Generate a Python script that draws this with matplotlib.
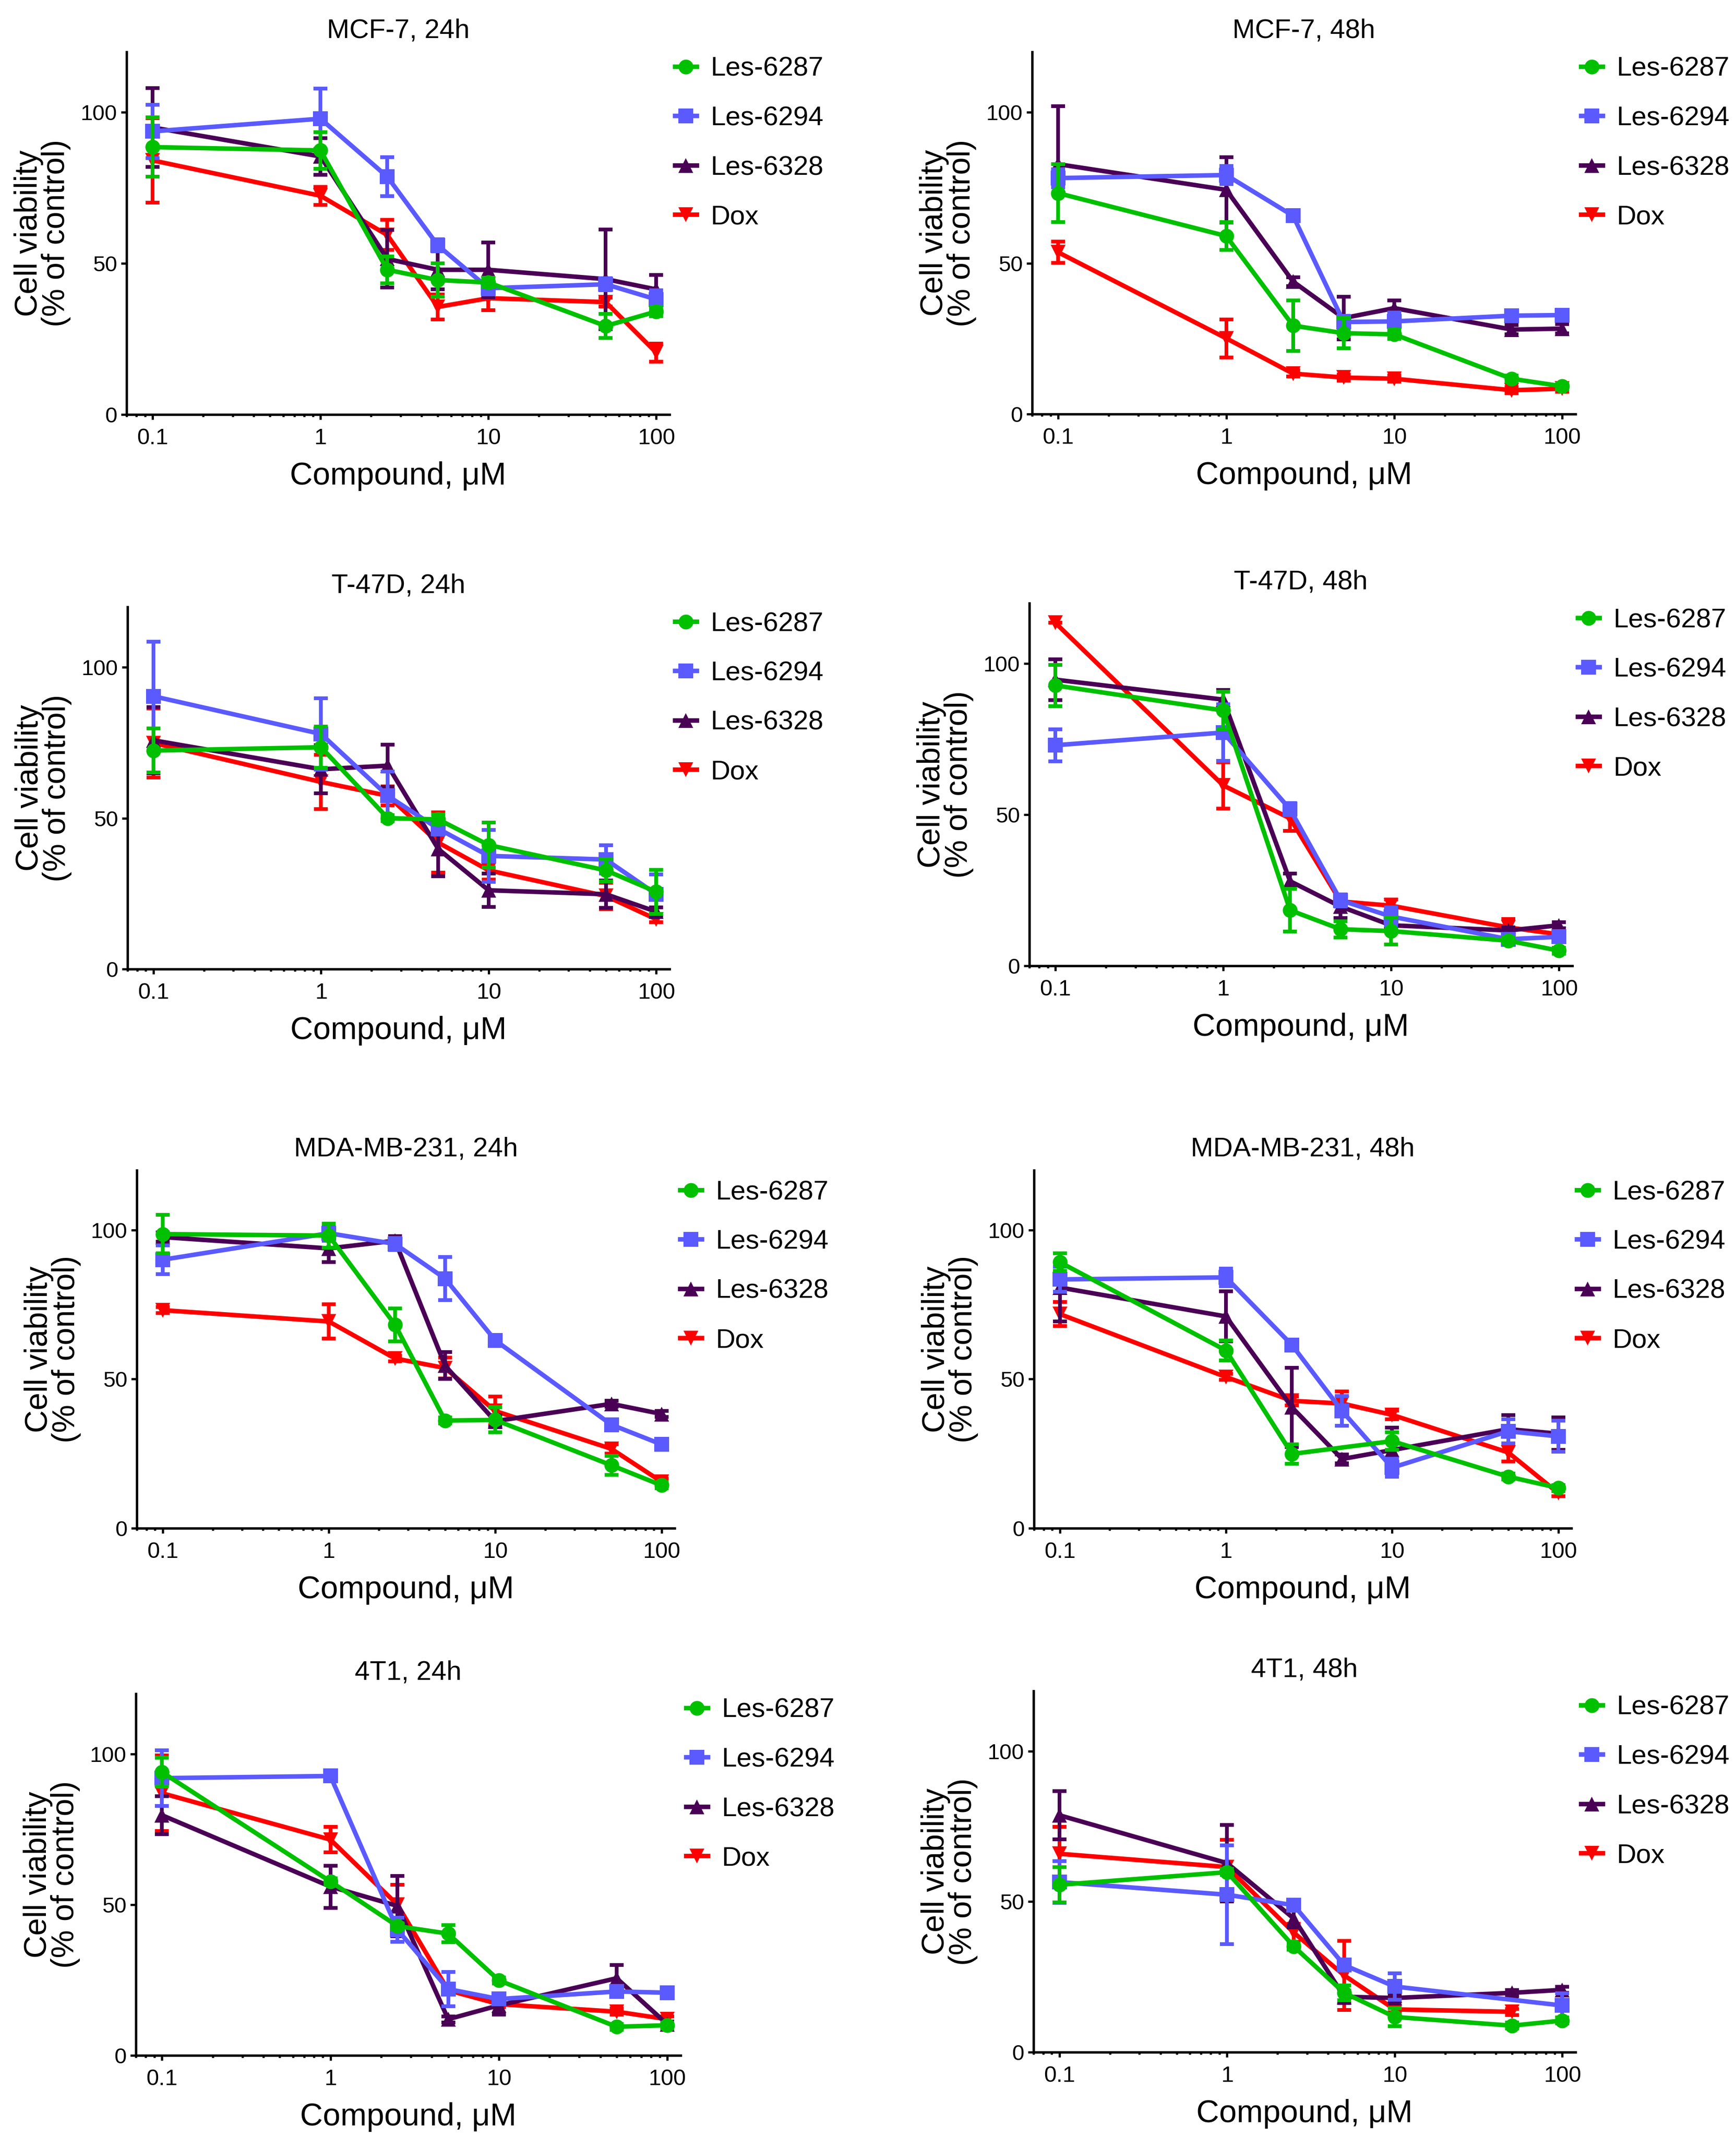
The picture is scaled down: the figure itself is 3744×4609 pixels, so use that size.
import numpy as np
import matplotlib
matplotlib.use("Agg")
import matplotlib.pyplot as plt
from matplotlib.lines import Line2D
from matplotlib.ticker import FixedLocator, LogLocator, NullFormatter, FixedFormatter

plt.rcParams['font.family'] = ['Liberation Sans', 'DejaVu Sans']

conc = [0.1, 1, 2.5, 5, 10, 50, 100]
compounds = ["Les-6287", "Les-6294", "Les-6328", "Dox"]
titles = ["MCF-7, 24h", "MCF-7, 48h", "T-47D, 24h", "T-47D, 48h",
          "MDA-MB-231, 24h", "MDA-MB-231, 48h", "4T1, 24h", "4T1, 48h"]
nan = np.nan

# ---- MCF-7 24h ----
mcf7_24_6287 = [88.5, 87.4, 47.9, 44.5, 43.7, 29.3, 34.1]
mcf7_24_6287_sd = [9.8, 6.0, 4.5, 5.5, 1.5, 4.0, 1.5]
mcf7_24_6294 = [93.7, 97.9, 78.7, 56.0, 41.8, 43.1, 38.1]
mcf7_24_6294_sd = [8.8, 10.0, 6.5, 2.0, 2.0, 2.0, 3.0]
mcf7_24_6328 = [95.0, 85.4, 51.5, 47.9, 47.9, 44.8, 41.4]
mcf7_24_6328_sd = [13.0, 6.0, 9.5, 6.5, 9.0, 16.5, 4.8]
mcf7_24_dox = [84.1, 72.4, 59.4, 35.6, 38.5, 37.2, 20.5]
mcf7_24_dox_sd = [14.0, 3.0, 5.0, 4.2, 4.0, 1.5, 3.0]

# ---- MCF-7 48h ----
mcf7_48_6287 = [73.2, 59.0, 29.3, 26.8, 26.4, 11.7, 9.2]
mcf7_48_6287_sd = [9.6, 4.6, 8.4, 5.0, 1.5, 1.0, 1.0]
mcf7_48_6294 = [78.2, 79.2, 65.7, 30.5, 30.7, 32.6, 32.8]
mcf7_48_6294_sd = [3.0, 3.0, 1.5, 2.0, 3.0, 1.5, 1.5]
mcf7_48_6328 = [82.8, 74.3, 43.9, 31.8, 35.1, 28.0, 28.3]
mcf7_48_6328_sd = [19.2, 10.8, 1.5, 7.0, 2.5, 1.5, 1.5]
mcf7_48_dox = [53.6, 25.1, 13.4, 12.1, 11.7, 7.9, 8.4]
mcf7_48_dox_sd = [3.5, 6.3, 1.0, 1.0, 1.0, 1.0, 1.0]

# ---- T-47D 24h ----
t47d_24_6287 = [72.4, 73.5, 50.0, 49.6, 41.1, 32.7, 25.6]
t47d_24_6287_sd = [7.3, 6.8, 1.0, 1.5, 7.4, 3.7, 7.3]
t47d_24_6294 = [90.4, 77.9, 57.4, 46.5, 37.5, 36.3, 24.8]
t47d_24_6294_sd = [18.0, 11.8, 8.1, 2.0, 8.6, 4.7, 6.5]
t47d_24_6328 = [75.8, 66.2, 67.4, 39.8, 26.1, 24.8, 19.0]
t47d_24_6328_sd = [11.0, 8.0, 7.0, 9.0, 5.5, 4.5, 1.5]
t47d_24_dox = [74.9, 62.0, 57.4, 41.9, 32.7, 24.2, 16.5]
t47d_24_dox_sd = [11.5, 9.0, 3.1, 10.0, 3.0, 4.4, 1.0]

# ---- T-47D 48h ----
t47d_48_6287 = [92.8, 84.5, 18.4, 12.1, 11.5, 8.3, 5.0]
t47d_48_6287_sd = [6.8, 6.2, 7.0, 2.7, 4.5, 1.0, 1.0]
t47d_48_6294 = [73.0, 77.2, 51.8, 21.7, 16.3, 8.8, 9.6]
t47d_48_6294_sd = [5.3, 9.4, 2.0, 2.0, 3.0, 1.0, 1.5]
t47d_48_6328 = [94.7, 88.1, 28.0, 19.6, 13.4, 11.7, 13.4]
t47d_48_6328_sd = [6.8, 3.2, 2.5, 3.8, 1.0, 1.0, 1.0]
t47d_48_dox = [113.5, 59.7, 48.8, 21.3, 19.9, 12.7, 10.4]
t47d_48_dox_sd = [0.0, 7.7, 4.2, 1.5, 2.0, 2.8, 1.0]

# ---- MDA-MB-231 24h ----
mda_24_6287 = [98.6, 98.1, 68.2, 36.1, 36.3, 21.1, 14.4]
mda_24_6287_sd = [6.5, 4.0, 5.5, 1.0, 4.2, 3.2, 1.0]
mda_24_6294 = [90.0, 98.9, 95.3, 83.7, 63.0, 34.7, 28.1]
mda_24_6294_sd = [4.8, 2.5, 2.0, 7.3, 1.0, 1.5, 1.0]
mda_24_6328 = [97.6, 93.8, 96.4, 54.5, 35.9, 41.7, 38.3]
mda_24_6328_sd = [1.5, 4.5, 1.5, 4.5, 2.0, 1.0, 1.0]
mda_24_dox = [73.1, 69.3, 56.9, 53.7, 39.3, 26.6, 15.6]
mda_24_dox_sd = [1.0, 5.8, 1.0, 3.5, 4.8, 1.5, 1.0]

# ---- MDA-MB-231 48h ----
mda_48_6287 = [89.2, 59.6, 24.9, nan, 29.2, 17.3, 13.5]
mda_48_6287_sd = [3.0, 3.4, 3.3, 0.0, 3.0, 1.0, 1.0]
mda_48_6294 = [83.4, 84.1, 61.4, 39.3, 20.3, 32.5, 30.8]
mda_48_6294_sd = [4.2, 3.0, 1.0, 5.0, 3.0, 4.0, 5.2]
mda_48_6328 = [80.7, 71.0, 40.5, 23.2, 26.2, 33.2, 31.7]
mda_48_6328_sd = [11.4, 8.4, 13.3, 1.5, 7.6, 4.8, 5.5]
mda_48_dox = [71.8, 50.7, 42.7, 41.8, 38.0, 25.4, 11.8]
mda_48_dox_sd = [4.0, 1.0, 1.5, 4.0, 1.5, 3.0, 1.0]

# ---- 4T1 24h ----
t41_24_6287 = [94.0, 57.7, 42.9, 40.4, 24.9, 9.5, 10.0]
t41_24_6287_sd = [4.8, 1.0, 1.0, 2.8, 1.0, 1.0, 1.0]
t41_24_6294 = [92.0, 92.7, 41.7, 22.0, 18.7, 21.2, 20.8]
t41_24_6294_sd = [9.3, 1.5, 4.0, 5.7, 1.0, 1.5, 1.5]
t41_24_6328 = [79.7, 56.0, 49.6, 12.0, 16.6, 25.6, 10.3]
t41_24_6328_sd = [6.3, 7.0, 10.0, 1.0, 3.0, 4.4, 1.0]
t41_24_dox = [87.0, 71.6, 50.0, 21.6, 17.0, 14.5, 12.0]
t41_24_dox_sd = [12.6, 4.2, 6.6, 1.0, 1.0, 1.0, 1.0]

# ---- 4T1 48h ----
t41_48_6287 = [55.6, 59.8, 35.1, 19.7, 11.7, 8.8, 10.5]
t41_48_6287_sd = [5.9, 1.0, 1.0, 2.5, 3.0, 1.0, 1.0]
t41_48_6294 = [56.5, 52.3, 48.8, 28.9, 21.8, nan, 15.5]
t41_48_6294_sd = [6.9, 16.4, 1.5, 1.5, 4.4, 0.0, 4.0]
t41_48_6328 = [78.7, 62.8, 44.4, 18.4, 18.0, 19.7, 20.7]
t41_48_6328_sd = [8.0, 12.7, 3.0, 2.0, 1.0, 1.0, 1.0]
t41_48_dox = [65.9, 61.5, 39.7, 25.5, 14.2, 13.4, nan]
t41_48_dox_sd = [9.0, 9.0, 3.0, 11.5, 1.0, 1.0, 0.0]

panels = [
    [(mcf7_24_6287, mcf7_24_6287_sd), (mcf7_24_6294, mcf7_24_6294_sd), (mcf7_24_6328, mcf7_24_6328_sd), (mcf7_24_dox, mcf7_24_dox_sd)],
    [(mcf7_48_6287, mcf7_48_6287_sd), (mcf7_48_6294, mcf7_48_6294_sd), (mcf7_48_6328, mcf7_48_6328_sd), (mcf7_48_dox, mcf7_48_dox_sd)],
    [(t47d_24_6287, t47d_24_6287_sd), (t47d_24_6294, t47d_24_6294_sd), (t47d_24_6328, t47d_24_6328_sd), (t47d_24_dox, t47d_24_dox_sd)],
    [(t47d_48_6287, t47d_48_6287_sd), (t47d_48_6294, t47d_48_6294_sd), (t47d_48_6328, t47d_48_6328_sd), (t47d_48_dox, t47d_48_dox_sd)],
    [(mda_24_6287, mda_24_6287_sd), (mda_24_6294, mda_24_6294_sd), (mda_24_6328, mda_24_6328_sd), (mda_24_dox, mda_24_dox_sd)],
    [(mda_48_6287, mda_48_6287_sd), (mda_48_6294, mda_48_6294_sd), (mda_48_6328, mda_48_6328_sd), (mda_48_dox, mda_48_dox_sd)],
    [(t41_24_6287, t41_24_6287_sd), (t41_24_6294, t41_24_6294_sd), (t41_24_6328, t41_24_6328_sd), (t41_24_dox, t41_24_dox_sd)],
    [(t41_48_6287, t41_48_6287_sd), (t41_48_6294, t41_48_6294_sd), (t41_48_6328, t41_48_6328_sd), (t41_48_dox, t41_48_dox_sd)],
]

colors = ["#00C000", "#5A5AFF", "#4A0055", "#FF0000"]
markers = ["o", "s", "^", "v"]
draw_order = [3, 2, 1, 0]

W, H = 3744, 4609
fig = plt.figure(figsize=(W / 100, H / 100), dpi=100)

# axes boxes in pixels: left, right, top, bottom
boxes = [(273, 1444, 112, 894), (2226, 3398, 112, 893),
         (275, 1444, 1309, 2090), (2220, 3391, 1301, 2083),
         (295, 1455, 2524, 3296), (2230, 3389, 2524, 3296),
         (293, 1468, 3653, 4433), (2229, 3398, 3647, 4426)]
leg_off = [34, 34, 34, 34, 45, 45, 33, 33]

LW = 7
MS = 23
for i, (l, r, t, b) in enumerate(boxes):
    ax = fig.add_axes([l / W, 1 - b / H, (r - l) / W, (b - t) / H])
    wpx, hpx = r - l, b - t
    for k in draw_order:
        y, sd = panels[i][k]
        y = np.array(y, float)
        sd = np.array(sd, float)
        x = np.array(conc, float)
        m = ~np.isnan(y)
        z = 3 + 2 * (3 - k)
        ax.errorbar(x[m], y[m], yerr=sd[m], fmt='none', ecolor=colors[k],
                    elinewidth=5.8, capsize=11, capthick=5.8, clip_on=False, zorder=z)
        ax.plot(x[m], y[m], color=colors[k], marker=markers[k], markersize=MS,
                linewidth=LW, markeredgewidth=0, clip_on=False, zorder=z + 1)
    ax.set_xscale('log')
    ax.set_xlim(0.07, 120)
    ax.set_ylim(0, 120)
    ax.set_yticks([0, 50, 100])
    ax.xaxis.set_major_locator(FixedLocator([0.1, 1, 10, 100]))
    ax.xaxis.set_major_formatter(FixedFormatter(["0.1", "1", "10", "100"]))
    ax.xaxis.set_minor_locator(LogLocator(base=10, subs=np.arange(2, 10) * 1.0, numticks=20))
    ax.xaxis.set_minor_formatter(NullFormatter())
    for s in ['top', 'right']:
        ax.spines[s].set_visible(False)
    for s in ['left', 'bottom']:
        ax.spines[s].set_linewidth(3.8)
    ax.tick_params(axis='x', which='major', length=8, width=3.4, labelsize=35, pad=13)
    ax.tick_params(axis='x', which='minor', length=3.8, width=3.4)
    ax.tick_params(axis='y', which='major', length=8.6, width=3.4, labelsize=34, pad=6)
    ax.set_title(titles[i], fontsize=42, pad=22)
    ax.set_xlabel("Compound, \u03bcM", fontsize=49)
    ax.xaxis.set_label_coords(0.5, -101 / hpx)
    ax.set_ylabel("Cell viability\n(% of control)", fontsize=49, linespacing=0.9)
    ax.yaxis.set_label_coords(-120 / wpx, 0.5)
    handles = [Line2D([0], [0], color=colors[k], marker=markers[k], markersize=MS,
                      linewidth=LW, markeredgewidth=0) for k in range(4)]
    ax.legend(handles, compounds, loc='upper left',
              bbox_to_anchor=(1 + 12 / wpx, 1 - (leg_off[i] - 24) / hpx),
              frameon=False, fontsize=42, handlelength=0.8, handletextpad=0.5,
              labelspacing=0.9, borderpad=0, borderaxespad=0)

fig.savefig("out.png", dpi=100)
